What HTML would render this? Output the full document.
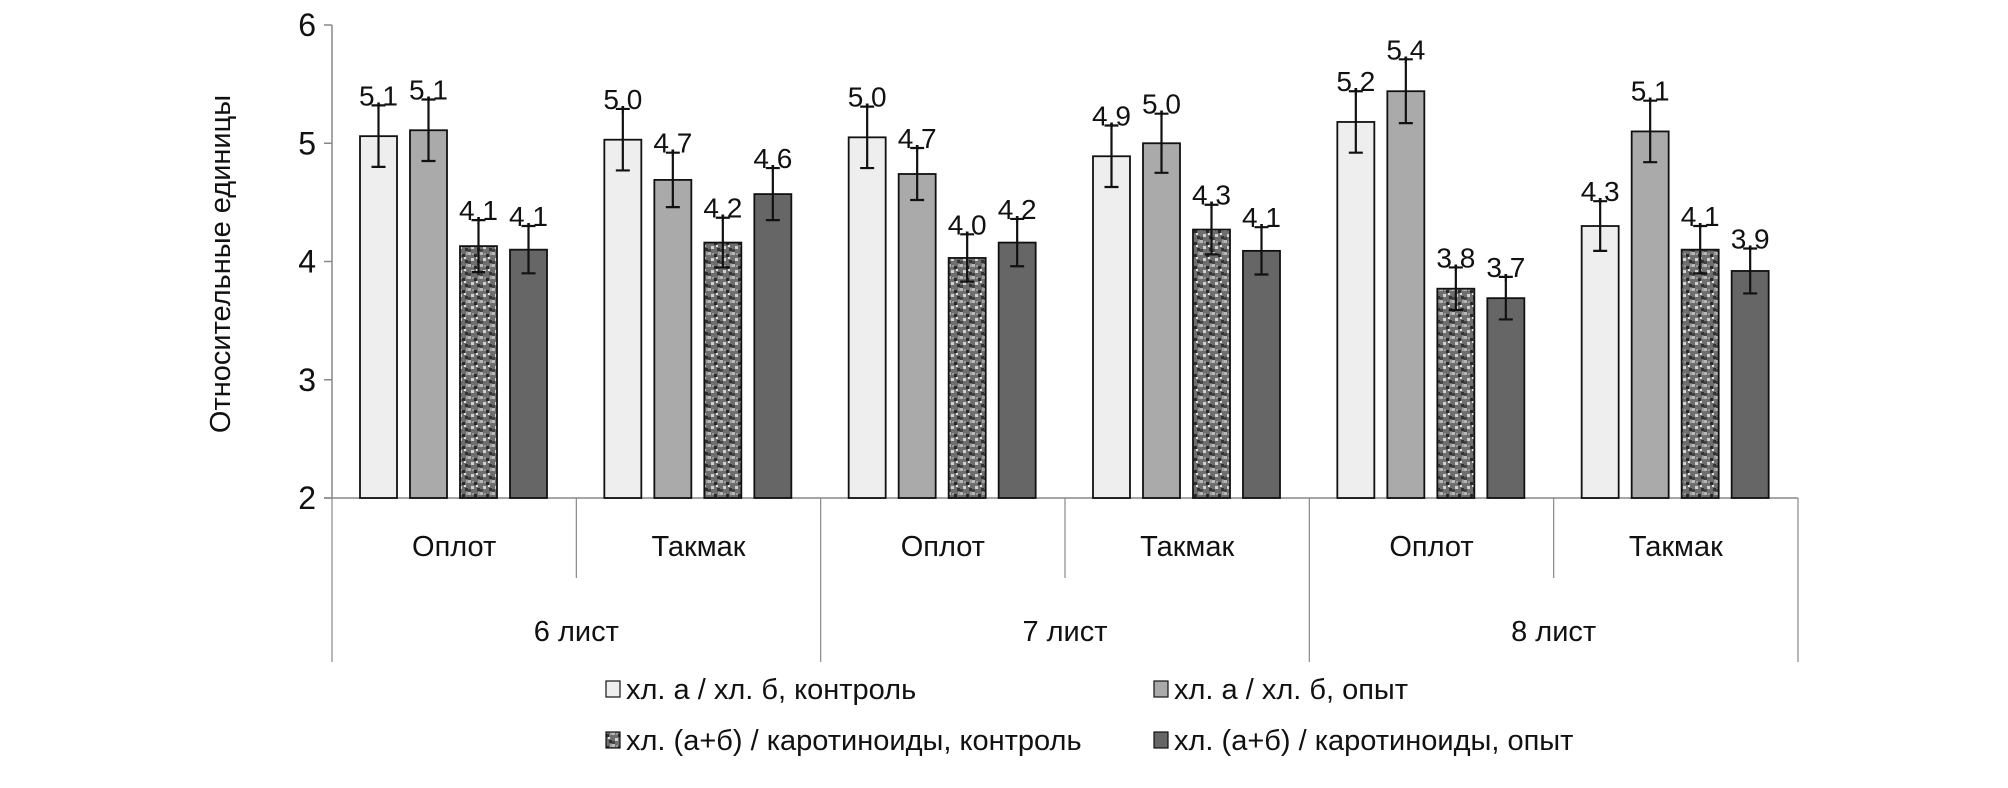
<!DOCTYPE html>
<html><head><meta charset="utf-8"><style>
html,body{margin:0;padding:0;background:#fff;}
svg{display:block;font-family:"Liberation Sans",sans-serif;}
</style></head><body>
<svg id="chart" width="2008" height="788" viewBox="0 0 2008 788">
<defs>
<pattern id="noise" width="12" height="12" patternUnits="userSpaceOnUse">
<rect width="12" height="12" fill="#6e6e6e"/>
<rect x="0" y="0" width="3" height="3" fill="#b8b8b8"/>
<rect x="6" y="2" width="3" height="3" fill="#2a2a2a"/>
<rect x="3" y="6" width="3" height="3" fill="#d0d0d0"/>
<rect x="9" y="8" width="3" height="3" fill="#333"/>
<rect x="0" y="9" width="3" height="3" fill="#444"/>
<rect x="8" y="5" width="2" height="2" fill="#e0e0e0"/>
<rect x="4" y="1" width="2" height="2" fill="#999"/>
<rect x="10" y="0" width="2" height="3" fill="#a0a0a0"/>
</pattern>
</defs>
<g id="plot"></g>
</svg>
<script>
const groups = ["6 лист", "7 лист", "8 лист"];
const categories = ["Оплот", "Такмак", "Оплот", "Такмак", "Оплот", "Такмак"];
const seriesNames = ["хл. а / хл. б, контроль", "хл. а / хл. б, опыт", "хл. (а+б) / каротиноиды, контроль", "хл. (а+б) / каротиноиды, опыт"];
const s1 = [5.06, 5.03, 5.05, 4.89, 5.18, 4.30];
const s2 = [5.11, 4.69, 4.74, 5.00, 5.44, 5.10];
const s3 = [4.13, 4.16, 4.03, 4.27, 3.77, 4.10];
const s4 = [4.10, 4.57, 4.16, 4.09, 3.69, 3.92];
const e1 = [0.26, 0.26, 0.26, 0.26, 0.26, 0.21];
const e2 = [0.26, 0.23, 0.22, 0.25, 0.27, 0.26];
const e3 = [0.22, 0.21, 0.20, 0.21, 0.18, 0.20];
const e4 = [0.20, 0.22, 0.20, 0.20, 0.18, 0.19];
const labels1 = ["5,1", "5,0", "5,0", "4,9", "5,2", "4,3"];
const labels2 = ["5,1", "4,7", "4,7", "5,0", "5,4", "5,1"];
const labels3 = ["4,1", "4,2", "4,0", "4,3", "3,8", "4,1"];
const labels4 = ["4,1", "4,6", "4,2", "4,1", "3,7", "3,9"];
const yTicks = [2, 3, 4, 5, 6];

const NS = "http://www.w3.org/2000/svg";
const g = document.getElementById("plot");
const X0 = 332, X1 = 1798, Y0 = 498, Y1 = 25, YMIN = 2, YMAX = 6;
const catW = (X1 - X0) / categories.length;
function y(v){ return Y0 - (v - YMIN) / (YMAX - YMIN) * (Y0 - Y1); }
function mk(tag, attrs, parent){ const e = document.createElementNS(NS, tag); for (const k in attrs) e.setAttribute(k, attrs[k]); (parent||g).appendChild(e); return e; }

let ax = mk("line", {x1:X0, y1:Y1, x2:X0, y2:Y0, stroke:"#888", "stroke-width":1.5});


yTicks.forEach(t => {
  const tk = mk("line", {x1:X0-8, y1:y(t), x2:X0, y2:y(t), stroke:"#888", "stroke-width":1.5});
  
  
  const tl = mk("text", {x:X0-16, y:y(t)+11, "text-anchor":"end", "font-size":32, fill:"#111"});
  tl.textContent = t;
  
  
});
let xa = mk("line", {x1:X0-8, y1:Y0, x2:X1, y2:Y0, stroke:"#888", "stroke-width":1.5});


for (let i = 0; i <= categories.length; i++) {
  const xx = X0 + i * catW;
  const long = i % 2 === 0;
  const d = mk("line", {x1:xx, y1:Y0, x2:xx, y2:long ? 662 : 578, stroke:"#888", "stroke-width":1.2});
  
  
}
categories.forEach((c, i) => {
  const t = mk("text", {x:X0 + (i + 0.5) * catW, y:556, "text-anchor":"middle", "font-size":29, fill:"#111"});
  t.textContent = c;
  
  
});
groups.forEach((gr, i) => {
  const t = mk("text", {x:X0 + (i + 1) * 2 * catW - catW, y:641, "text-anchor":"middle", "font-size":29, fill:"#111"});
  t.textContent = gr;
  
  
});
const yt = mk("text", {x:0, y:0, transform:"translate(230,264) rotate(-90)", "text-anchor":"middle", "font-size":29, fill:"#111"});
yt.textContent = "Относительные единицы";



const series = [s1, s2, s3, s4];
const errs = [e1, e2, e3, e4];
const lbls = [labels1, labels2, labels3, labels4];
const fills = ["#eeeeee", "#aaaaaa", "url(#noise)", "#666666"];
const BW = 37, STEP = 50, OFF = 28;
series.forEach((s, si) => {
  s.forEach((v, ci) => {
    const bx = X0 + ci * catW + OFF + si * STEP;
    const r = mk("rect", {x:bx, y:y(v), width:BW, height:Y0 - y(v), fill:fills[si], stroke:"#111", "stroke-width":1.8});
    
    
    const cx = bx + BW / 2, e = errs[si][ci];
    const eb = mk("path", {d:`M${cx},${y(v+e)}V${y(v-e)}M${cx-7},${y(v+e)}H${cx+7}M${cx-7},${y(v-e)}H${cx+7}`, stroke:"#111", "stroke-width":2.2, fill:"none"});
    
    
    const lt = mk("text", {x:cx, y:y(v+e), "text-anchor":"middle", "font-size":28, fill:"#111"});
    lt.textContent = lbls[si][ci];
    
    
  });
});

const legPos = [[606, 699], [1154, 699], [606, 750], [1154, 750]];
seriesNames.forEach((n, i) => {
  const [lx, ly] = legPos[i];
  const sq = mk("rect", {x:lx, y:ly - 18, width:14, height:16, fill:fills[i], stroke:"#111", "stroke-width":1.2});
  
  
  const t = mk("text", {x:lx + 20, y:ly, "font-size":29, fill:"#111"});
  t.textContent = n;
  
  
});
</script>
</body></html>
